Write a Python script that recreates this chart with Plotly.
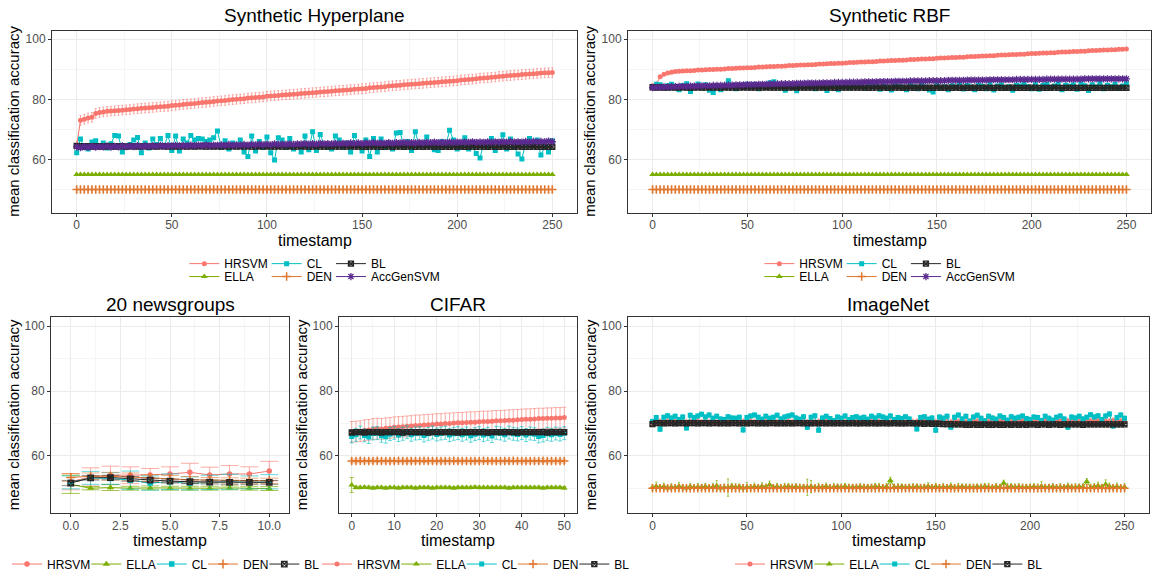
import plotly.graph_objects as go

W, H = 1153, 579
FONT = "Liberation Sans, Arial, Helvetica, sans-serif"

# ---------------- data ----------------
t_syn = list(range(0, 251, 2))          # timestamps shown (every 2nd step)
t_news = list(range(0, 11))
t_cifar = list(range(0, 51))

# Synthetic Hyperplane
hyper_hrsvm = [
    64.5, 73.0, 73.4, 73.8, 74.0, 75.3, 75.6, 75.8, 76.0, 76.1, 76.2, 76.3, 76.4, 76.5,
    76.6, 76.8, 76.9, 77.0, 77.1, 77.2, 77.3, 77.4, 77.5, 77.6, 77.7, 77.9, 78.0, 78.1,
    78.3, 78.4, 78.5, 78.6, 78.8, 78.9, 79.0, 79.1, 79.3, 79.4, 79.5, 79.6, 79.8, 79.9,
    80.0, 80.1, 80.2, 80.4, 80.5, 80.6, 80.7, 80.8, 81.0, 81.1, 81.2, 81.3, 81.4, 81.5,
    81.6, 81.7, 81.8, 81.9, 82.0, 82.1, 82.2, 82.3, 82.4, 82.5, 82.6, 82.7, 82.8, 82.9,
    83.0, 83.1, 83.2, 83.3, 83.4, 83.5, 83.6, 83.8, 83.9, 84.0, 84.1, 84.2, 84.4, 84.5,
    84.6, 84.7, 84.8, 84.9, 85.0, 85.1, 85.2, 85.3, 85.4, 85.5, 85.6, 85.7, 85.8, 85.9,
    86.0, 86.1, 86.2, 86.4, 86.5, 86.6, 86.7, 86.8, 87.0, 87.1, 87.2, 87.3, 87.4, 87.6,
    87.7, 87.8, 87.9, 88.0, 88.1, 88.2, 88.3, 88.4, 88.5, 88.6, 88.7, 88.8, 88.8, 88.9,
]
hyper_cl = [
    62.2, 66.8, 64.0, 63.5, 65.8, 66.2, 64.5, 65.5, 63.8, 65.2, 68.0, 67.8, 62.5, 64.0,
    65.0, 66.5, 67.3, 62.2, 65.5, 63.8, 66.8, 65.0, 67.0, 64.5, 68.0, 63.0, 67.8, 62.8,
    66.8, 65.5, 68.0, 66.5, 67.0, 66.8, 66.0, 66.5, 67.2, 69.5, 64.0, 66.2, 63.5, 65.5,
    64.8, 66.5, 62.5, 61.0, 67.8, 62.8, 66.0, 64.0, 67.5, 62.2, 59.8, 67.2, 66.5, 64.0,
    67.0, 63.5, 64.8, 62.5, 67.8, 63.2, 69.2, 63.0, 68.3, 65.0, 64.0, 63.5, 67.8, 66.5,
    64.0, 65.5, 62.5, 68.0, 65.0, 62.8, 66.5, 61.0, 67.0, 62.5, 66.8, 64.0, 65.5, 63.5,
    68.8, 69.0, 64.5, 66.0, 63.0, 69.2, 64.5, 65.5, 67.5, 64.5, 63.2, 63.0, 66.0, 64.5,
    69.7, 66.5, 63.5, 64.0, 67.2, 63.5, 64.5, 62.0, 60.5, 65.5, 64.2, 67.0, 63.0, 65.0,
    68.2, 63.5, 66.8, 64.0, 61.8, 60.2, 65.5, 67.0, 64.5, 66.5, 61.5, 64.0, 62.5, 66.2,
]
hyper_bl = [
    64.5, 64.4, 64.4, 64.4, 64.3, 64.4, 64.4, 64.3, 64.4, 64.4, 64.3, 64.4, 64.4, 64.3,
    64.4, 64.4, 64.3, 64.4, 64.4, 64.3, 64.4, 64.3, 64.4, 64.4, 64.3, 64.4, 64.3, 64.4,
    64.4, 64.3, 64.4, 64.3, 64.4, 64.4, 64.3, 64.4, 64.3, 64.4, 64.3, 64.4, 64.3, 64.4,
    64.3, 64.4, 64.3, 64.4, 64.3, 64.3, 64.4, 64.3, 64.4, 64.3, 64.3, 64.4, 64.3, 64.3,
    64.4, 64.3, 64.3, 64.4, 64.3, 64.3, 64.3, 64.4, 64.3, 64.3, 64.3, 64.4, 64.3, 64.3,
    64.3, 64.3, 64.4, 64.3, 64.3, 64.3, 64.2, 64.3, 64.3, 64.3, 64.2, 64.3, 64.3, 64.2,
    64.3, 64.3, 64.2, 64.3, 64.3, 64.2, 64.3, 64.2, 64.3, 64.3, 64.2, 64.3, 64.2, 64.3,
    64.2, 64.3, 64.2, 64.3, 64.2, 64.2, 64.3, 64.2, 64.3, 64.2, 64.2, 64.3, 64.2, 64.2,
    64.3, 64.2, 64.2, 64.2, 64.3, 64.2, 64.2, 64.2, 64.3, 64.2, 64.2, 64.2, 64.2, 64.2,
]
hyper_accgen = [
    64.2, 63.9, 64.3, 64.0, 64.4, 64.1, 64.3, 64.2, 64.5, 64.1, 64.4, 64.2, 64.5, 64.3,
    64.5, 64.3, 64.6, 64.3, 64.5, 64.4, 64.6, 64.4, 64.7, 64.4, 64.6, 64.5, 64.7, 64.5,
    64.7, 64.5, 64.8, 64.6, 64.8, 64.6, 64.9, 64.6, 64.8, 64.7, 64.9, 64.7, 65.0, 64.7,
    64.9, 64.8, 65.0, 64.8, 65.0, 64.9, 65.1, 64.9, 65.1, 64.9, 65.2, 65.0, 65.1, 65.0,
    65.2, 65.0, 65.2, 65.1, 65.3, 65.1, 65.3, 65.1, 65.4, 65.2, 65.3, 65.2, 65.4, 65.2,
    65.4, 65.3, 65.5, 65.3, 65.5, 65.3, 65.5, 65.4, 65.6, 65.4, 65.5, 65.4, 65.6, 65.4,
    65.6, 65.5, 65.7, 65.5, 65.6, 65.5, 65.7, 65.5, 65.7, 65.6, 65.8, 65.6, 65.7, 65.6,
    65.8, 65.6, 65.8, 65.7, 65.8, 65.7, 65.9, 65.7, 65.8, 65.7, 65.9, 65.7, 65.9, 65.8,
    65.9, 65.8, 66.0, 65.8, 65.9, 65.8, 66.0, 65.8, 66.0, 65.9, 66.0, 65.9, 66.1, 65.9,
]
# flat series of both synthetic panels (ELLA stays at 55, DEN at 50)
syn_ella = [
    55.0, 55.0, 55.0, 55.0, 55.0, 55.0, 55.0, 55.0, 55.0, 55.0, 55.0, 55.0, 55.0, 55.0,
    55.0, 55.0, 55.0, 55.0, 55.0, 55.0, 55.0, 55.0, 55.0, 55.0, 55.0, 55.0, 55.0, 55.0,
    55.0, 55.0, 55.0, 55.0, 55.0, 55.0, 55.0, 55.0, 55.0, 55.0, 55.0, 55.0, 55.0, 55.0,
    55.0, 55.0, 55.0, 55.0, 55.0, 55.0, 55.0, 55.0, 55.0, 55.0, 55.0, 55.0, 55.0, 55.0,
    55.0, 55.0, 55.0, 55.0, 55.0, 55.0, 55.0, 55.0, 55.0, 55.0, 55.0, 55.0, 55.0, 55.0,
    55.0, 55.0, 55.0, 55.0, 55.0, 55.0, 55.0, 55.0, 55.0, 55.0, 55.0, 55.0, 55.0, 55.0,
    55.0, 55.0, 55.0, 55.0, 55.0, 55.0, 55.0, 55.0, 55.0, 55.0, 55.0, 55.0, 55.0, 55.0,
    55.0, 55.0, 55.0, 55.0, 55.0, 55.0, 55.0, 55.0, 55.0, 55.0, 55.0, 55.0, 55.0, 55.0,
    55.0, 55.0, 55.0, 55.0, 55.0, 55.0, 55.0, 55.0, 55.0, 55.0, 55.0, 55.0, 55.0, 55.0,
]
syn_den = [
    50.0, 50.0, 50.0, 50.0, 50.0, 50.0, 50.0, 50.0, 50.0, 50.0, 50.0, 50.0, 50.0, 50.0,
    50.0, 50.0, 50.0, 50.0, 50.0, 50.0, 50.0, 50.0, 50.0, 50.0, 50.0, 50.0, 50.0, 50.0,
    50.0, 50.0, 50.0, 50.0, 50.0, 50.0, 50.0, 50.0, 50.0, 50.0, 50.0, 50.0, 50.0, 50.0,
    50.0, 50.0, 50.0, 50.0, 50.0, 50.0, 50.0, 50.0, 50.0, 50.0, 50.0, 50.0, 50.0, 50.0,
    50.0, 50.0, 50.0, 50.0, 50.0, 50.0, 50.0, 50.0, 50.0, 50.0, 50.0, 50.0, 50.0, 50.0,
    50.0, 50.0, 50.0, 50.0, 50.0, 50.0, 50.0, 50.0, 50.0, 50.0, 50.0, 50.0, 50.0, 50.0,
    50.0, 50.0, 50.0, 50.0, 50.0, 50.0, 50.0, 50.0, 50.0, 50.0, 50.0, 50.0, 50.0, 50.0,
    50.0, 50.0, 50.0, 50.0, 50.0, 50.0, 50.0, 50.0, 50.0, 50.0, 50.0, 50.0, 50.0, 50.0,
    50.0, 50.0, 50.0, 50.0, 50.0, 50.0, 50.0, 50.0, 50.0, 50.0, 50.0, 50.0, 50.0, 50.0,
]

# Synthetic RBF
rbf_hrsvm = [
    84.5, 85.0, 87.5, 88.3, 88.7, 89.0, 89.2, 89.3, 89.4, 89.5, 89.5, 89.6, 89.7, 89.7,
    89.8, 89.9, 89.9, 90.0, 90.0, 90.1, 90.2, 90.2, 90.3, 90.4, 90.4, 90.5, 90.5, 90.6,
    90.7, 90.7, 90.8, 90.9, 90.9, 91.0, 91.0, 91.1, 91.2, 91.2, 91.3, 91.4, 91.4, 91.5,
    91.5, 91.6, 91.7, 91.7, 91.8, 91.9, 91.9, 92.0, 92.0, 92.1, 92.2, 92.2, 92.3, 92.4,
    92.4, 92.5, 92.5, 92.6, 92.7, 92.7, 92.8, 92.9, 92.9, 93.0, 93.0, 93.1, 93.2, 93.2,
    93.3, 93.4, 93.4, 93.5, 93.5, 93.6, 93.7, 93.7, 93.8, 93.9, 93.9, 94.0, 94.0, 94.1,
    94.2, 94.2, 94.3, 94.4, 94.4, 94.5, 94.5, 94.6, 94.7, 94.7, 94.8, 94.9, 94.9, 95.0,
    95.0, 95.1, 95.2, 95.2, 95.3, 95.4, 95.4, 95.5, 95.5, 95.6, 95.7, 95.7, 95.8, 95.9,
    95.9, 96.0, 96.0, 96.1, 96.2, 96.2, 96.3, 96.4, 96.4, 96.5, 96.5, 96.6, 96.6, 96.7,
]
rbf_cl = [
    84.0, 85.0, 84.8, 83.8, 84.5, 85.0, 84.2, 83.2, 84.6, 85.2, 82.6, 84.3, 85.1, 84.0,
    84.8, 83.0, 82.3, 84.5, 83.2, 84.0, 86.2, 84.6, 83.5, 84.2, 84.8, 85.0, 84.1, 84.9,
    83.5, 84.4, 84.8, 85.5, 85.8, 84.6, 84.2, 83.0, 84.5, 83.8, 82.8, 84.3, 84.0, 84.9,
    84.2, 83.5, 84.6, 84.0, 82.9, 84.5, 84.8, 83.2, 84.0, 84.6, 83.8, 84.3, 84.1, 84.7,
    83.6, 84.9, 84.2, 84.5, 83.3, 84.4, 84.0, 83.1, 84.6, 84.3, 84.0, 83.2, 84.8, 84.2,
    83.5, 84.6, 84.0, 83.1, 82.4, 84.8, 83.6, 84.2, 83.2, 84.5, 84.0, 85.2, 83.4, 84.6,
    84.1, 83.2, 84.7, 84.3, 83.5, 84.9, 83.1, 84.4, 84.8, 83.6, 84.2, 83.0, 84.7, 84.4,
    85.0, 84.2, 83.5, 84.8, 83.3, 84.6, 84.9, 84.0, 84.4, 85.1, 83.2, 84.7, 84.3, 84.8,
    83.3, 85.2, 84.5, 82.9, 84.8, 84.1, 85.3, 83.5, 84.7, 84.2, 85.0, 83.6, 84.4, 85.2,
]
rbf_bl = [
    84.0, 83.9, 84.0, 83.9, 83.9, 84.0, 83.9, 83.9, 84.0, 83.9, 83.9, 83.9, 84.0, 83.9,
    83.9, 84.0, 83.9, 83.9, 83.9, 84.0, 83.9, 83.9, 83.9, 83.9, 84.0, 83.9, 83.9, 83.9,
    83.9, 83.9, 84.0, 83.9, 83.9, 83.9, 83.9, 83.9, 83.9, 84.0, 83.9, 83.9, 83.9, 83.9,
    83.9, 83.9, 83.9, 83.9, 83.9, 83.9, 83.8, 83.9, 83.9, 83.9, 83.9, 83.9, 83.9, 83.9,
    83.9, 83.8, 83.9, 83.9, 83.9, 83.9, 83.8, 83.9, 83.9, 83.9, 83.8, 83.9, 83.9, 83.8,
    83.9, 83.9, 83.8, 83.9, 83.8, 83.9, 83.9, 83.8, 83.9, 83.8, 83.9, 83.8, 83.9, 83.8,
    83.8, 83.9, 83.8, 83.8, 83.9, 83.8, 83.8, 83.9, 83.8, 83.8, 83.8, 83.9, 83.8, 83.8,
    83.8, 83.8, 83.9, 83.8, 83.8, 83.8, 83.8, 83.8, 83.9, 83.8, 83.8, 83.8, 83.8, 83.8,
    83.8, 83.8, 83.8, 83.8, 83.8, 83.8, 83.8, 83.8, 83.8, 83.8, 83.8, 83.8, 83.8, 83.8,
]
rbf_accgen = [
    83.9, 84.0, 84.0, 84.1, 84.1, 84.2, 84.2, 84.3, 84.3, 84.3, 84.4, 84.4, 84.4, 84.5,
    84.5, 84.5, 84.6, 84.6, 84.6, 84.7, 84.7, 84.7, 84.8, 84.8, 84.8, 84.9, 84.9, 84.9,
    85.0, 85.0, 85.0, 85.1, 85.1, 85.1, 85.2, 85.2, 85.2, 85.2, 85.3, 85.3, 85.3, 85.4,
    85.4, 85.4, 85.4, 85.5, 85.5, 85.5, 85.6, 85.6, 85.6, 85.6, 85.7, 85.7, 85.7, 85.7,
    85.8, 85.8, 85.8, 85.8, 85.9, 85.9, 85.9, 85.9, 86.0, 86.0, 86.0, 86.0, 86.1, 86.1,
    86.1, 86.1, 86.1, 86.2, 86.2, 86.2, 86.2, 86.2, 86.3, 86.3, 86.3, 86.3, 86.3, 86.4,
    86.4, 86.4, 86.4, 86.4, 86.4, 86.5, 86.5, 86.5, 86.5, 86.5, 86.5, 86.5, 86.6, 86.6,
    86.6, 86.6, 86.6, 86.6, 86.6, 86.6, 86.7, 86.7, 86.7, 86.7, 86.7, 86.7, 86.7, 86.7,
    86.7, 86.7, 86.8, 86.8, 86.8, 86.8, 86.8, 86.8, 86.8, 86.8, 86.8, 86.8, 86.8, 86.8,
]

# 20 newsgroups (mean and error half-width)
news_hrsvm = [52.0, 53.5, 54.0, 54.0, 54.1, 54.4, 54.9, 54.1, 54.4, 54.4, 55.3]
news_hrsvm_err = [2.5, 2.8, 2.8, 2.6, 2.0, 2.2, 2.8, 2.4, 2.6, 2.2, 3.0]
news_ella = [51.2, 50.0, 50.2, 50.0, 50.1, 50.0, 50.0, 50.0, 50.1, 50.0, 49.9]
news_ella_err = [2.8, 0.5, 0.9, 0.6, 0.6, 0.6, 0.6, 0.6, 0.6, 0.6, 0.6]
news_cl = [51.8, 53.2, 53.0, 52.5, 51.6, 52.0, 51.5, 51.8, 52.0, 51.8, 52.0]
news_cl_err = [2.0, 2.0, 1.8, 2.8, 2.2, 2.4, 2.0, 2.2, 2.3, 2.0, 2.2]
news_den = [53.3, 53.7, 53.7, 53.5, 53.2, 52.9, 52.6, 52.5, 52.4, 52.3, 52.3]
news_den_err = [1.2, 1.0, 1.2, 1.2, 1.0, 1.0, 1.0, 0.8, 0.8, 0.8, 0.8]
news_bl = [51.6, 53.2, 53.3, 52.9, 52.5, 52.2, 52.0, 51.9, 51.8, 51.8, 51.8]
news_bl_err = [0.8, 0.7, 0.7, 0.7, 0.6, 0.6, 0.6, 0.6, 0.6, 0.6, 0.6]

# CIFAR
cifar_hrsvm = [
    67.4, 67.5, 67.6, 67.9, 68.0, 68.3, 68.4, 68.3, 68.5, 68.6,
    68.8, 68.9, 69.0, 69.1, 69.2, 69.4, 69.4, 69.5, 69.6, 69.7,
    69.8, 69.8, 70.0, 70.0, 70.1, 70.2, 70.2, 70.3, 70.4, 70.4,
    70.5, 70.6, 70.6, 70.7, 70.8, 70.8, 70.9, 71.0, 71.0, 71.1,
    71.2, 71.3, 71.3, 71.4, 71.5, 71.5, 71.6, 71.6, 71.7, 71.7,
    71.8,
]
cifar_ella = [
    51.0, 50.2, 50.2, 50.3, 50.2, 50.1, 50.2, 50.2, 50.1, 50.2,
    50.2, 50.1, 50.2, 50.2, 50.2, 50.1, 50.2, 50.2, 50.2, 50.1,
    50.2, 50.2, 50.2, 50.2, 50.1, 50.2, 50.2, 50.2, 50.2, 50.3,
    50.2, 50.2, 50.2, 50.2, 50.2, 50.2, 50.2, 50.1, 50.2, 50.2,
    50.2, 50.2, 50.2, 50.2, 50.2, 50.1, 50.2, 50.2, 50.2, 50.2,
    50.1,
]
cifar_ella_err = [
    2.3, 0.4, 0.4, 0.4, 0.4, 0.4, 0.4, 0.4, 0.4, 0.4,
    0.4, 0.4, 0.4, 0.4, 0.4, 0.4, 0.4, 0.4, 0.4, 0.4,
    0.4, 0.4, 0.4, 0.4, 0.4, 0.4, 0.4, 0.4, 0.4, 0.4,
    0.4, 0.4, 0.4, 0.4, 0.4, 0.4, 0.4, 0.4, 0.4, 0.4,
    0.4, 0.4, 0.4, 0.4, 0.4, 0.4, 0.4, 0.4, 0.4, 0.4,
    0.4,
]
cifar_cl = [
    66.0, 66.5, 67.2, 66.3, 65.8, 66.9, 67.0, 66.2, 65.9, 66.7,
    67.1, 66.4, 66.8, 67.3, 66.5, 66.9, 67.0, 66.3, 66.8, 67.2,
    66.6, 66.9, 67.1, 66.4, 66.8, 67.0, 66.5, 66.9, 66.2, 66.7,
    67.0, 66.4, 66.8, 66.1, 67.1, 66.9, 66.5, 67.2, 66.8, 66.6,
    67.0, 66.4, 66.9, 66.7, 66.0, 66.3, 66.8, 66.5, 66.9, 66.6,
    67.0,
]
cifar_den = [
    58.4, 58.4, 58.5, 58.4, 58.4, 58.4, 58.5, 58.4, 58.4, 58.4,
    58.4, 58.5, 58.4, 58.4, 58.4, 58.4, 58.4, 58.5, 58.4, 58.4,
    58.4, 58.4, 58.4, 58.4, 58.5, 58.4, 58.4, 58.4, 58.4, 58.4,
    58.4, 58.5, 58.4, 58.4, 58.4, 58.4, 58.4, 58.4, 58.5, 58.4,
    58.4, 58.4, 58.4, 58.4, 58.4, 58.5, 58.4, 58.4, 58.4, 58.4,
    58.4,
]
cifar_bl = [
    67.2, 67.3, 67.3, 67.2, 67.3, 67.3, 67.3, 67.2, 67.3, 67.3,
    67.3, 67.3, 67.2, 67.3, 67.3, 67.3, 67.3, 67.3, 67.2, 67.3,
    67.3, 67.3, 67.3, 67.3, 67.3, 67.2, 67.3, 67.3, 67.3, 67.3,
    67.3, 67.3, 67.2, 67.3, 67.3, 67.3, 67.3, 67.3, 67.3, 67.2,
    67.3, 67.3, 67.3, 67.3, 67.3, 67.3, 67.2, 67.3, 67.3, 67.3,
    67.3,
]

# ImageNet
imnet_hrsvm = [
    70.0, 70.4, 70.5, 70.3, 70.6, 70.4, 70.5, 70.3, 70.6, 70.4, 70.5, 70.4, 70.6, 70.3,
    70.5, 70.4, 70.6, 70.3, 70.5, 70.4, 70.5, 70.3, 70.6, 70.4, 70.5, 70.4, 70.6, 70.4,
    70.5, 70.3, 70.5, 70.4, 70.6, 70.4, 70.5, 70.3, 70.6, 70.4, 70.5, 70.4, 70.5, 70.3,
    70.6, 70.4, 70.5, 70.4, 70.6, 70.3, 70.5, 70.4, 70.5, 70.4, 70.6, 70.4, 70.5, 70.3,
    70.5, 70.4, 70.6, 70.4, 70.5, 70.3, 70.6, 70.4, 70.5, 70.4, 70.5, 70.3, 70.6, 70.4,
    70.5, 70.4, 70.6, 70.4, 70.5, 70.4, 70.6, 70.5, 70.5, 70.4, 70.6, 70.5, 70.6, 70.4,
    70.6, 70.5, 70.6, 70.4, 70.6, 70.5, 70.7, 70.5, 70.6, 70.5, 70.7, 70.5, 70.6, 70.5,
    70.7, 70.5, 70.6, 70.5, 70.7, 70.6, 70.7, 70.5, 70.7, 70.6, 70.7, 70.5, 70.7, 70.6,
    70.7, 70.6, 70.8, 70.6, 70.7, 70.6, 70.8, 70.6, 70.7, 70.6, 70.8, 70.6, 70.7, 70.6,
]
imnet_hrsvm_err = 0.9
imnet_ella = [
    50.2, 50.6, 50.3, 50.5, 50.1, 50.4, 50.2, 50.6, 50.3, 50.1, 50.5, 50.2, 50.4, 50.3,
    50.5, 50.2, 50.4, 50.8, 50.1, 50.3, 50.2, 50.6, 50.3, 50.5, 50.1, 50.4, 50.2, 50.5,
    50.3, 50.6, 50.4, 51.1, 50.3, 50.5, 50.2, 50.4, 50.6, 50.3, 50.5, 50.2, 50.4, 50.3,
    50.5, 50.2, 50.4, 50.3, 50.6, 50.2, 50.4, 50.5, 50.3, 50.6, 50.2, 50.4, 50.3, 50.5,
    50.2, 50.4, 50.3, 50.6, 50.4, 50.2, 50.5, 52.4, 50.4, 50.3, 50.5, 50.2, 50.4, 50.3,
    50.5, 50.2, 50.4, 50.6, 50.3, 50.5, 50.2, 50.4, 50.3, 50.6, 50.2, 50.4, 50.5, 50.3,
    50.4, 50.2, 50.5, 50.3, 50.6, 50.4, 50.2, 50.5, 50.3, 51.6, 50.4, 50.6, 50.3, 50.5,
    50.2, 50.4, 50.3, 50.5, 50.2, 50.6, 50.3, 50.4, 50.5, 50.2, 50.4, 50.3, 50.6, 50.4,
    50.3, 50.5, 50.4, 52.1, 50.3, 50.5, 50.8, 50.4, 51.2, 50.6, 50.3, 50.5, 50.2, 50.4,
]
imnet_ella_err = [
    0.9, 1.3, 0.8, 1.1, 0.7, 1.0, 0.8, 1.2, 0.9, 0.7, 1.0, 0.8, 1.1, 0.9,
    1.0, 0.8, 1.1, 1.6, 0.9, 1.0, 2.7, 0.9, 1.1, 0.8, 1.0, 1.4, 0.9, 1.1,
    0.8, 1.1, 0.9, 1.1, 0.8, 1.0, 0.9, 1.1, 0.8, 1.0, 0.9, 1.1, 0.8, 2.5,
    1.9, 0.9, 1.1, 0.8, 1.0, 0.9, 1.1, 0.8, 1.0, 0.9, 1.1, 0.8, 1.0, 0.9,
    1.1, 0.8, 1.0, 0.9, 1.1, 0.8, 1.0, 1.0, 0.9, 1.1, 0.8, 1.0, 0.9, 1.1,
    0.8, 1.0, 0.9, 1.1, 0.8, 1.0, 0.9, 1.1, 0.8, 1.0, 0.9, 1.1, 0.8, 1.0,
    0.9, 1.1, 0.8, 1.0, 0.9, 1.1, 0.8, 1.0, 0.9, 0.9, 1.1, 0.8, 1.0, 0.9,
    1.1, 0.8, 1.0, 0.9, 1.1, 1.5, 0.9, 0.8, 1.0, 0.9, 1.1, 0.8, 1.0, 0.9,
    1.1, 0.8, 1.0, 0.9, 1.0, 0.9, 1.1, 0.8, 1.4, 1.0, 0.9, 1.1, 0.8, 1.0,
]
imnet_cl = [
    70.6, 71.8, 68.2, 71.9, 72.4, 71.7, 72.2, 71.2, 72.0, 68.6, 72.5, 71.8, 72.3, 72.8,
    72.0, 72.6, 71.6, 72.2, 71.4, 71.2, 72.1, 71.7, 71.6, 71.9, 68.0, 71.8, 72.3, 72.6,
    71.9, 71.3, 72.2, 71.6, 71.9, 72.5, 71.4, 72.0, 72.3, 72.6, 71.7, 71.3, 72.1, 68.8,
    71.9, 72.4, 67.9, 71.7, 72.2, 71.5, 70.9, 72.0, 71.6, 72.3, 71.2, 71.8, 72.1, 71.6,
    71.9, 71.3, 72.2, 71.7, 72.4, 72.0, 71.6, 72.3, 71.2, 71.8, 71.5, 72.1, 71.4, 70.0,
    68.3, 71.8, 72.1, 71.3, 71.7, 67.9, 72.0, 71.6, 72.2, 68.8, 71.9, 72.6, 71.4, 72.2,
    70.7, 72.0, 72.5, 71.6, 70.8, 72.2, 71.7, 71.3, 72.3, 71.8, 71.0, 72.1, 71.6, 71.9,
    72.3, 71.5, 71.2, 72.0, 71.8, 70.9, 72.2, 71.6, 71.0, 71.9, 72.3, 71.4, 68.8, 72.0,
    71.7, 72.2, 71.4, 71.9, 72.7, 72.0, 72.4, 71.2, 72.3, 72.9, 69.2, 71.8, 72.6, 71.6,
]
imnet_bl = [
    69.8, 70.1, 70.1, 70.0, 70.1, 70.1, 70.0, 70.1, 70.1, 70.0, 70.1, 70.1, 70.0, 70.1,
    70.1, 70.0, 70.1, 70.1, 70.0, 70.1, 70.0, 70.1, 70.1, 70.0, 70.1, 70.0, 70.1, 70.1,
    70.0, 70.1, 70.0, 70.1, 70.1, 70.0, 70.1, 70.0, 70.1, 70.0, 70.1, 70.1, 70.0, 70.1,
    70.0, 70.1, 70.0, 70.1, 70.0, 70.1, 70.0, 70.1, 70.0, 70.1, 70.0, 70.1, 70.0, 70.0,
    70.1, 70.0, 70.1, 70.0, 70.0, 70.1, 70.0, 70.0, 70.1, 70.0, 70.0, 70.0, 70.1, 70.0,
    70.0, 70.0, 69.9, 70.0, 69.9, 69.9, 69.9, 69.8, 69.8, 69.8, 69.7, 69.7, 69.7, 69.6,
    69.6, 69.7, 69.6, 69.6, 69.7, 69.6, 69.6, 69.7, 69.6, 69.6, 69.7, 69.6, 69.7, 69.6,
    69.7, 69.6, 69.7, 69.7, 69.6, 69.7, 69.7, 69.6, 69.7, 69.7, 69.6, 69.7, 69.7, 69.7,
    69.7, 69.7, 69.6, 69.7, 69.7, 69.7, 69.7, 69.7, 69.7, 69.7, 69.7, 69.7, 69.7, 69.7,
]
imnet_den = syn_den   # DEN stays flat at 50 on ImageNet too

# ---------------- styling ----------------
COLORS = {'HRSVM': '#F8766D', 'ELLA': '#7CAE00', 'CL': '#00BFC4',
          'DEN': '#E0772E', 'BL': '#262626', 'AccGenSVM': '#5B2A8E'}
ERRC = {'HRSVM': 'rgba(248,118,109,0.6)', 'ELLA': 'rgba(124,174,0,0.7)',
        'CL': 'rgba(0,191,196,0.6)', 'DEN': 'rgba(224,119,46,0.6)',
        'BL': 'rgba(38,38,38,0.5)', 'AccGenSVM': 'rgba(91,42,142,0.5)'}
SYMBOL = {'HRSVM': ('circle', 0), 'ELLA': ('triangle-up', 0), 'CL': ('square', 0),
          'DEN': ('cross-thin-open', 1.5), 'BL': ('square-x-open', 1.3),
          'AccGenSVM': ('asterisk-open', 1.3)}
TEXT_W = {'HRSVM': 43.3, 'ELLA': 29.4, 'CL': 15.3, 'DEN': 25.3, 'BL': 14.7, 'AccGenSVM': 68.7}
LEG_OFF = 5   # legend box left -> start of key line

# panel boxes in pixels: left, right, top, bottom
panels = [
    dict(title='Synthetic Hyperplane', box=(52, 577, 31, 214), xr=[-12.97, 262.97], dt=50, fmt='d', cap=1, ms=5,
         series=[('HRSVM', t_syn, hyper_hrsvm, 1.6), ('ELLA', t_syn, syn_ella, 0.3),
                 ('CL', t_syn, hyper_cl, 0.5), ('DEN', t_syn, syn_den, 0.9),
                 ('BL', t_syn, hyper_bl, 0.5), ('AccGenSVM', t_syn, hyper_accgen, 0.7)],
         legend='two'),
    dict(title='Synthetic RBF', box=(628, 1151, 31, 214), xr=[-12.97, 262.97], dt=50, fmt='d', cap=1, ms=5,
         series=[('HRSVM', t_syn, rbf_hrsvm, 0.4), ('ELLA', t_syn, syn_ella, 0.3),
                 ('CL', t_syn, rbf_cl, 0.4), ('DEN', t_syn, syn_den, 0.9),
                 ('BL', t_syn, rbf_bl, 0.5), ('AccGenSVM', t_syn, rbf_accgen, 0.6)],
         legend='two'),
    dict(title='20 newsgroups', box=(51, 289, 319, 516), xr=[-0.995, 10.995], dt=2.5, fmt='.1f', cap=9, ms=5.5,
         series=[('HRSVM', t_news, news_hrsvm, news_hrsvm_err), ('ELLA', t_news, news_ella, news_ella_err),
                 ('CL', t_news, news_cl, news_cl_err), ('DEN', t_news, news_den, news_den_err),
                 ('BL', t_news, news_bl, news_bl_err)],
         legend='one', lx=12),
    dict(title='CIFAR', box=(339, 577, 319, 516), xr=[-2.995, 52.995], dt=10, fmt='d', cap=2, ms=5,
         series=[('HRSVM', t_cifar, cifar_hrsvm, 3.2), ('ELLA', t_cifar, cifar_ella, cifar_ella_err),
                 ('CL', t_cifar, cifar_cl, 2.0), ('DEN', t_cifar, cifar_den, 0.6),
                 ('BL', t_cifar, cifar_bl, 0.6)],
         legend='one', lx=322),
    dict(title='ImageNet', box=(628, 1149, 319, 516), xr=[-12.97, 262.97], dt=50, fmt='d', cap=1, ms=5,
         series=[('HRSVM', t_syn, imnet_hrsvm, imnet_hrsvm_err), ('ELLA', t_syn, imnet_ella, imnet_ella_err),
                 ('CL', t_syn, imnet_cl, 0.7), ('DEN', t_syn, imnet_den, 0.4),
                 ('BL', t_syn, imnet_bl, 0.4)],
         legend='one', lx=None),
]

fig = go.Figure()
layout = dict(width=W, height=H, margin=dict(l=0, r=0, t=0, b=0),
              paper_bgcolor='white', plot_bgcolor='white', showlegend=True,
              font=dict(family=FONT, color='black'), hovermode=False)
annotations = []
legend_count = [0]


def new_legend(x_px, y_px):
    legend_count[0] += 1
    key = 'legend' if legend_count[0] == 1 else 'legend%d' % legend_count[0]
    layout[key] = dict(x=x_px / W, y=1 - y_px / H, xanchor='left', yanchor='middle',
                       orientation='h', bgcolor='rgba(0,0,0,0)', borderwidth=0,
                       font=dict(family=FONT, size=12, color='black'),
                       itemclick=False, itemdoubleclick=False)
    return key


def paper_text(text, x_px, y_px, size, angle=0):
    annotations.append(dict(text=text, x=x_px / W, y=1 - y_px / H, xref='paper', yref='paper',
                            xanchor='center', yanchor='middle', showarrow=False, textangle=angle,
                            font=dict(family=FONT, size=size, color='black')))


for i, p in enumerate(panels):
    n = i + 1
    xa, ya = ('xaxis' if n == 1 else 'xaxis%d' % n), ('yaxis' if n == 1 else 'yaxis%d' % n)
    xref, yref = ('x' if n == 1 else 'x%d' % n), ('y' if n == 1 else 'y%d' % n)
    l, r, t, b = p['box']
    common = dict(showline=True, mirror=True, linecolor='#333333', linewidth=1,
                  ticks='outside', ticklen=3, tickcolor='#333333', tickwidth=1,
                  tickfont=dict(family=FONT, size=12, color='#4D4D4D'),
                  showgrid=True, gridcolor='#EBEBEB', gridwidth=1, zeroline=False)
    layout[xa] = dict(common, domain=[l / W, r / W], range=p['xr'], anchor=yref,
                      tick0=0, dtick=p['dt'], tickformat=p['fmt'], ticklabelstandoff=-2,
                      minor=dict(dtick=p['dt'] / 2, showgrid=True, gridcolor='#EBEBEB', gridwidth=0.5))
    layout[ya] = dict(common, domain=[1 - b / H, 1 - t / H], range=[42.25, 102.75], anchor=xref,
                      tick0=0, dtick=20,
                      minor=dict(dtick=10, showgrid=True, gridcolor='#EBEBEB', gridwidth=0.5))
    top_row = t < 100
    # panel title, axis titles
    paper_text(p['title'], (l + r) / 2, t - (15 if top_row else 13), 19)
    paper_text('timestamp', (l + r) / 2, b + (28 if top_row else 27), 16)
    paper_text('mean classification accuracy', l - 38, (t + b) / 2, 15, angle=-90)

    # legend placement (one small legend per entry)
    cx = (l + r) / 2
    legpos = {}
    if p['legend'] == 'two':
        cols = [('HRSVM', 'ELLA'), ('CL', 'DEN'), ('BL', 'AccGenSVM')]
        colw = [35 + max(TEXT_W[a], TEXT_W[c]) for a, c in cols]
        gap = 4
        x = cx - (sum(colw) + gap * (len(cols) - 1)) / 2
        for (a, c), cw in zip(cols, colw):
            legpos[a] = (x - LEG_OFF, 265)
            legpos[c] = (x - LEG_OFF, 278)
            x += cw + gap
    else:
        order = ['HRSVM', 'ELLA', 'CL', 'DEN', 'BL']
        widths = [35 + TEXT_W[k] for k in order]
        gap = 1
        total = sum(widths) + gap * (len(order) - 1)
        x = p['lx'] if p['lx'] is not None else cx - total / 2
        for k, w in zip(order, widths):
            legpos[k] = (x - LEG_OFF, 567)
            x += w + gap

    for name, xs, ys, err in p['series']:
        assert len(xs) == len(ys), (p['title'], name, len(xs), len(ys))
        sym, lw = SYMBOL[name]
        if isinstance(err, list):
            assert len(err) == len(ys), (p['title'], name)
            ey = dict(type='data', array=err, symmetric=True)
        else:
            ey = dict(type='constant', value=err)
        ey.update(color=ERRC[name], thickness=1, width=p['cap'], visible=True)
        msize = p['ms'] + (1 if name in ('ELLA', 'DEN', 'AccGenSVM') else 0)
        marker = dict(symbol=sym, size=msize, color=COLORS[name],
                      line=dict(color=COLORS[name], width=lw))
        lg = new_legend(*legpos[name])
        fig.add_trace(go.Scatter(x=xs, y=ys, mode='lines+markers', name=name,
                                 line=dict(color=COLORS[name], width=1), marker=marker,
                                 error_y=ey, xaxis=xref, yaxis=yref, legend=lg,
                                 showlegend=True, hoverinfo='skip'))

layout['annotations'] = annotations
fig.update_layout(**layout)
# the page's default 8px body margin would shift the whole figure; remove it
fig.write_html("out.html", config={'displayModeBar': False, 'staticPlot': True},
               post_script="document.body.style.margin='0px';")
